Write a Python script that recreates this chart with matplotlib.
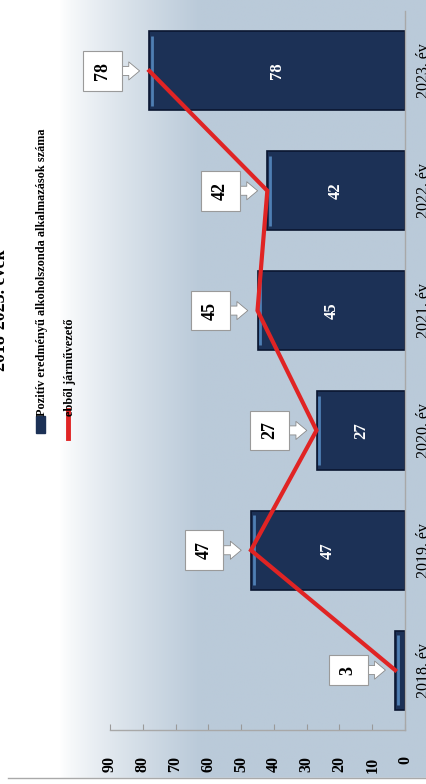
import numpy as np
import matplotlib
matplotlib.use('Agg')
import matplotlib.pyplot as plt

# adatok
years = ['2018. év', '2019. év', '2020. év', '2021. év', '2022. év', '2023. év']
positive_tests = [3, 47, 27, 45, 42, 78]
drivers = [3, 47, 27, 45, 42, 78]
value_ticks = [0, 10, 20, 30, 40, 50, 60, 70, 80, 90]
legend_labels = ['Pozitív eredményű alkoholszonda alkalmazások száma', 'ebből járművezető']
title_text = '2018-2023. évek'

W, H = 426, 784
fig = plt.figure(figsize=(W / 100, H / 100), dpi=100)

# háttér színátmenet
bg = fig.add_axes([0, 0, 1, 1], zorder=-10)
xs = np.linspace(0, 1, 300)
t = np.clip((xs * W - 60) / 140, 0, 1) ** 0.8
left_c = np.array([1.0, 1.0, 1.0])
right_c = np.array([186, 202, 217]) / 255
row = left_c[None, :] * (1 - t[:, None]) + right_c[None, :] * t[:, None]
img = np.repeat(row[None, :, :], 10, axis=0)
bg.imshow(img, aspect='auto', extent=[0, W, 0, H])
bg.axhspan(0, 6, color='white')
bg.plot([8, W], [6, 6], color='#a9a9a9', lw=1)
bg.set_xlim(0, W)
bg.set_ylim(0, H)
bg.axis('off')

serif = 'Liberation Serif'

ax = fig.add_axes([110 / W, 1 - 730 / H, 295 / W, 719 / H])
ax.patch.set_alpha(0)
ypos = np.arange(len(years))

ax.barh(ypos, positive_tests, height=0.66, color='#1c3156', edgecolor='#0a1630',
        linewidth=1.2, zorder=2)
# világosabb perem az oszlopok végén
for y, v in zip(ypos, positive_tests):
    ax.plot([v - 0.9, v - 0.9], [y - 0.29, y + 0.29], color='#4f7fb4', lw=2, zorder=3,
            solid_capstyle='butt')
    if v > 10:
        ax.text(v / 2, y, str(v), rotation=90, ha='center', va='center', color='white',
                fontsize=12, fontweight='bold', family=serif, zorder=4)

ax.plot(drivers, ypos, color='#e02424', lw=3, zorder=5, solid_joinstyle='miter')

for y, v in zip(ypos, drivers):
    ax.annotate(str(v), xy=(v, y), xytext=(-47, 0), textcoords='offset pixels',
                rotation=90, ha='center', va='center', fontsize=13, fontweight='bold',
                family=serif, color='black', zorder=6,
                bbox=dict(boxstyle='square,pad=0.6', fc='white', ec='#9a9a9a', lw=0.8),
                arrowprops=dict(arrowstyle='simple,head_width=1.0,head_length=0.6,tail_width=0.5',
                                fc='white', ec='#8a8a8a', lw=0.6, shrinkA=0, shrinkB=7))

ax.set_xlim(90, 0)
ax.set_ylim(-0.5, len(years) - 0.5)
ax.set_xticks(value_ticks)
ax.set_xticklabels([str(v) for v in value_ticks], rotation=90, fontsize=11.5,
                   fontweight='bold', family=serif)
ax.tick_params(axis='x', direction='in', length=4, color='#9a9a9a', pad=19)
ax.yaxis.tick_right()
ax.set_yticks(ypos)
ax.set_yticklabels(years, rotation=90, va='center', fontsize=11.5, family=serif)
ax.tick_params(axis='y', length=0, pad=8)
for s in ['left', 'top']:
    ax.spines[s].set_visible(False)
for s in ['bottom', 'right']:
    ax.spines[s].set_color('#a8a8a8')
    ax.spines[s].set_linewidth(1)

# jelmagyarázat
fig.patches.append(plt.Rectangle((36 / W, 1 - 433 / H), 9 / W, 17 / H,
                                 transform=fig.transFigure, color='#1c3156'))
fig.lines.append(plt.Line2D([68 / W, 68 / W], [1 - 438 / H, 1 - 410 / H],
                            transform=fig.transFigure, color='#e02424', lw=3.5))
fig.text(42 / W, 1 - 416 / H, legend_labels[0], rotation=90, ha='center', va='bottom',
         fontsize=8.8, fontweight='bold', family=serif)
fig.text(70 / W, 1 - 416 / H, legend_labels[1], rotation=90, ha='center', va='bottom',
         fontsize=8.8, fontweight='bold', family=serif)

# cím: a kép szélén levágva
fig.text(-8 / W, 1 - 310 / H, title_text, rotation=90, ha='left', va='center',
         fontsize=13, fontweight='bold', family=serif)

fig.savefig('out.png', dpi=100)
